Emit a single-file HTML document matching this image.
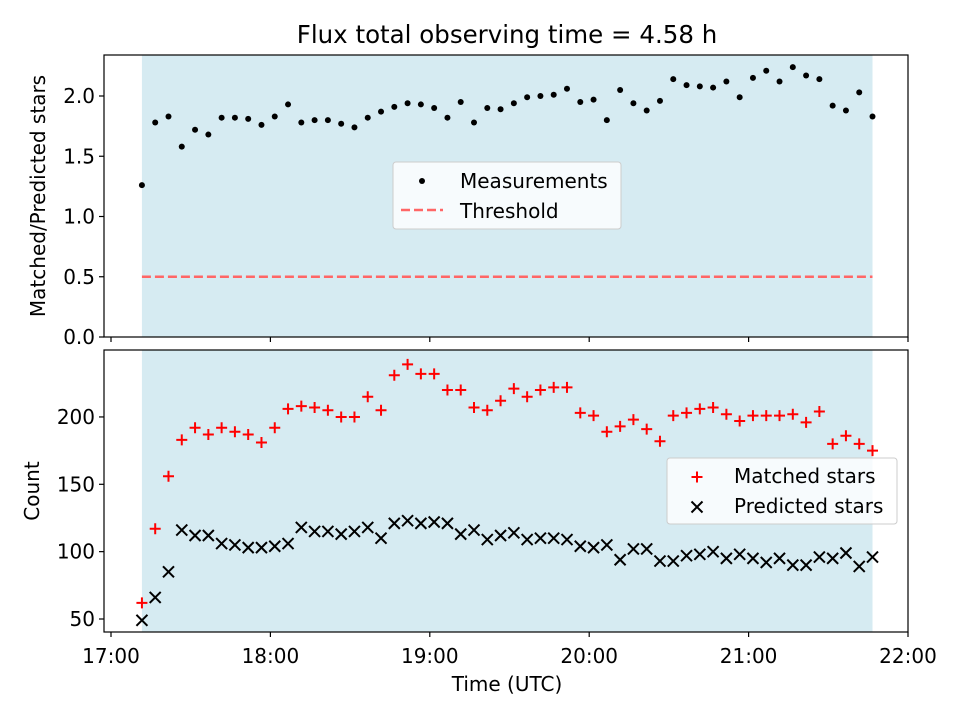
<!DOCTYPE html>
<html><head><meta charset="utf-8"><style>
html,body{margin:0;padding:0;background:#fff;}
svg{display:block;font-family:"DejaVu Sans","Liberation Sans",sans-serif;}
</style></head><body>
<svg id="chart" width="960" height="720" viewBox="0 0 960 720">
<text x="507" y="43" font-size="24.5" text-anchor="middle">Flux total observing time = 4.58 h</text>
<g id="topPanel"></g>
<g id="botPanel"></g>
</svg>
<script>
const startHour = 17.194;
const stepHours = 5/60;
const ratioValues = [1.26,1.78,1.83,1.58,1.72,1.68,1.82,1.82,1.81,1.76,1.83,1.93,1.78,1.80,1.80,1.77,1.74,1.82,1.87,1.91,1.94,1.93,1.90,1.82,1.95,1.78,1.90,1.89,1.94,1.99,2.00,2.01,2.06,1.95,1.97,1.80,2.05,1.94,1.88,1.96,2.14,2.09,2.08,2.07,2.12,1.99,2.15,2.21,2.12,2.24,2.17,2.14,1.92,1.88,2.03,1.83];
const matchedValues = [62,117,156,183,192,187,192,189,187,181,192,206,208,207,205,200,200,215,205,231,239,232,232,220,220,207,205,212,221,215,220,222,222,203,201,189,193,198,191,182,201,203,206,207,202,197,201,201,201,202,196,204,180,186,180,175];
const predictedValues = [49,66,85,116,112,112,106,105,103,103,104,106,118,115,115,113,115,118,110,121,123,121,122,121,113,116,109,112,114,109,110,110,109,104,103,105,94,102,102,93,93,97,98,100,95,98,95,92,95,90,90,96,95,99,89,96];
const xTickLabels = ["17:00","18:00","19:00","20:00","21:00","22:00"];
const xTickHours = [17,18,19,20,21,22];
const topTicks = [0,0.5,1.0,1.5,2.0];
const botTicks = [50,100,150,200];
const threshold = 0.5;

const NS="http://www.w3.org/2000/svg";
function mk(parent,tag,attrs,text){const e=document.createElementNS(NS,tag);for(const k in attrs)e.setAttribute(k,attrs[k]);if(text!==undefined)e.textContent=text;parent.appendChild(e);return e;}
const L=104,R=908,FS=20;
const xs=h=>111+(h-17)*159.4;
const yTop=v=>337-v*120.5;
const yBot=v=>619-(v-50)*1.347;
const times=ratioValues.map((_,i)=>startHour+i*stepHours);
const t0=times[0],t1=times[times.length-1];

function panel(g,y0,y1,ys,ticks,fmt,label,lx,showXLabels){
  const s=mk(g,'rect',{x:xs(t0),y:y0,width:xs(t1)-xs(t0),height:y1-y0,fill:'#add8e6','fill-opacity':0.5});
  
  
  ticks.forEach(t=>{
    const y=ys(t);
    mk(g,'line',{x1:L-5,x2:L,y1:y,y2:y,stroke:'#000','stroke-width':1.2});
    const tl=mk(g,'text',{x:L-9,y:y+7,'font-size':FS,'text-anchor':'end'},fmt(t));
    
    
  });
  xTickHours.forEach((h,i)=>{
    const x=xs(h);
    mk(g,'line',{x1:x,x2:x,y1:y1,y2:y1+5,stroke:'#000','stroke-width':1.2});
    if(showXLabels){
      const tl=mk(g,'text',{x:x,y:y1+31,'font-size':FS,'text-anchor':'middle'},xTickLabels[i]);
      
      
    }
  });
  const cy=(y0+y1)/2;
  const yl=mk(g,'text',{x:0,y:0,'font-size':FS,'text-anchor':'middle',transform:`translate(${lx},${cy}) rotate(-90)`},label);
  
  
}
function frame(g,y0,y1){
  const f=mk(g,'rect',{x:L,y:y0,width:R-L,height:y1-y0,fill:'none',stroke:'#000','stroke-width':1.2});
  
  
}
function plus(g,x,y,c){mk(g,'path',{d:`M${x-5.5},${y}H${x+5.5}M${x},${y-5.5}V${y+5.5}`,stroke:c,'stroke-width':2,fill:'none'});}
function cross(g,x,y,c){mk(g,'path',{d:`M${x-5.5},${y-5.5}L${x+5.5},${y+5.5}M${x-5.5},${y+5.5}L${x+5.5},${y-5.5}`,stroke:c,'stroke-width':2,fill:'none'});}

const topG=document.getElementById('topPanel');
panel(topG,55,337,yTop,topTicks,v=>v.toFixed(1),'Matched/Predicted stars',45,false);
const th=mk(topG,'line',{x1:xs(t0),x2:xs(t1),y1:yTop(threshold),y2:yTop(threshold),stroke:'#ff6666','stroke-width':2.5,'stroke-dasharray':'9,4'});


ratioValues.forEach((v,i)=>{
  const c=mk(topG,'circle',{cx:xs(times[i]),cy:yTop(v),r:3,fill:'#000'});
  
  
});
frame(topG,55,337);
const lg1=mk(topG,'g',{});


mk(lg1,'rect',{x:393,y:162,width:228,height:67,rx:3,fill:'#fff','fill-opacity':0.8,stroke:'#ccc'});
mk(lg1,'circle',{cx:422,cy:181,r:3,fill:'#000'});
mk(lg1,'text',{x:460,y:188,'font-size':FS},'Measurements');
mk(lg1,'line',{x1:401,x2:443,y1:210,y2:210,stroke:'#ff6666','stroke-width':2.5,'stroke-dasharray':'9,4'});
mk(lg1,'text',{x:460,y:218,'font-size':FS},'Threshold');

const botG=document.getElementById('botPanel');
panel(botG,350,632,yBot,botTicks,v=>String(v),'Count',39,true);
matchedValues.forEach((v,i)=>plus(botG,xs(times[i]),yBot(v),'#ff0000'));
predictedValues.forEach((v,i)=>cross(botG,xs(times[i]),yBot(v),'#000'));
frame(botG,350,632);
const lg2=mk(botG,'g',{});


mk(lg2,'rect',{x:667,y:458,width:230,height:66,rx:3,fill:'#fff','fill-opacity':0.8,stroke:'#ccc'});
plus(lg2,697,477,'#ff0000');
mk(lg2,'text',{x:734,y:483,'font-size':FS},'Matched stars');
cross(lg2,697,507,'#000');
mk(lg2,'text',{x:734,y:513,'font-size':FS},'Predicted stars');
const xl=mk(botG,'text',{x:507,y:691,'font-size':FS,'text-anchor':'middle'},'Time (UTC)');


</script>
</body></html>
